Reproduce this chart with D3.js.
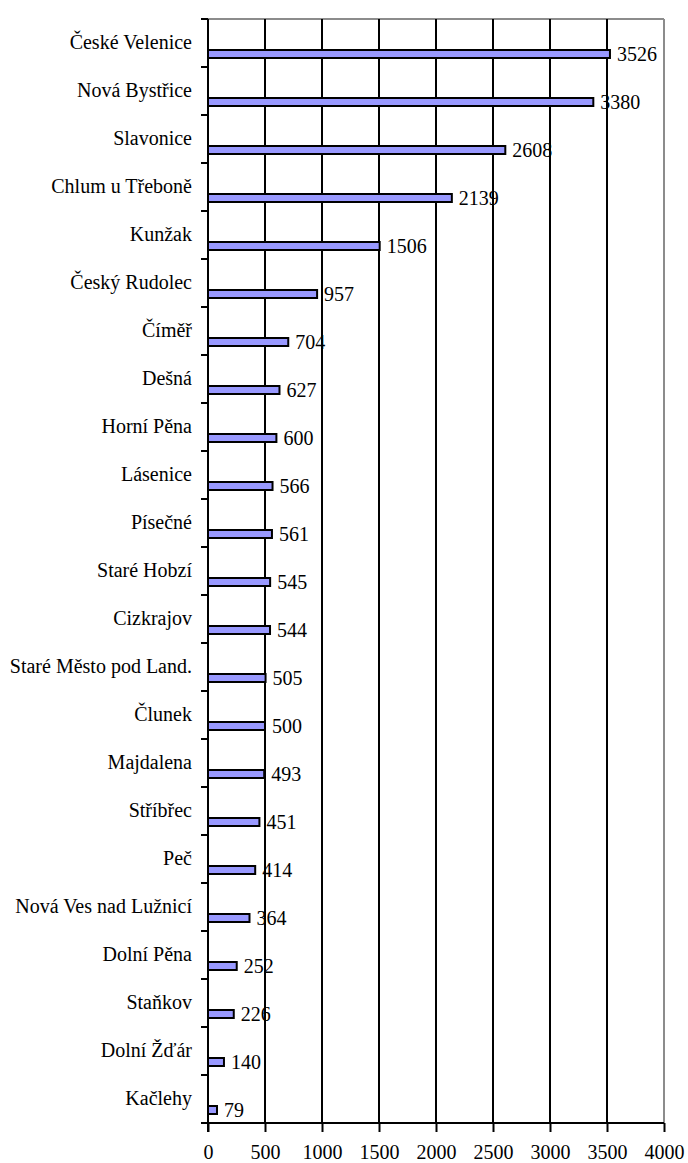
<!DOCTYPE html>
<html>
<head>
<meta charset="utf-8">
<script src="https://cdn.jsdelivr.net/npm/d3@7/dist/d3.min.js"></script>
<style>
  html, body { margin: 0; padding: 0; background: #fff; }
  svg { display: block; }
</style>
</head>
<body>
<svg id="chart" width="688" height="1163"></svg>
<script>
const categories = ["České Velenice","Nová Bystřice","Slavonice","Chlum u Třeboně","Kunžak","Český Rudolec","Číměř","Dešná","Horní Pěna","Lásenice","Písečné","Staré Hobzí","Cizkrajov","Staré Město pod Land.","Člunek","Majdalena","Stříbřec","Peč","Nová Ves nad Lužnicí","Dolní Pěna","Staňkov","Dolní Žďár","Kačlehy"];
const values = [3526,3380,2608,2139,1506,957,704,627,600,566,561,545,544,505,500,493,451,414,364,252,226,140,79];
const xTicks = [0,500,1000,1500,2000,2500,3000,3500,4000];

(function () {
const FONT = "'Liberation Serif', 'Times New Roman', 'DejaVu Serif', serif";
const FS = 20;
const svg = d3.select("#chart")
  .attr("font-family", FONT).attr("font-size", FS);
const pLeft = 208, pRight = 664, pTop = 19, pBottom = 1123;

const x = d3.scaleLinear().domain([0, 4000]).range([pLeft, pRight]);
const y = d3.scaleBand().domain(categories).range([pTop, pBottom]).padding(0);
const bw = y.bandwidth();

// plot border (gray top/right)
svg.append("line").attr("x1", pLeft).attr("x2", pRight).attr("y1", pTop).attr("y2", pTop)
  .attr("stroke", "#8c8c8c").attr("stroke-width", 2);
svg.append("line").attr("x1", pRight).attr("x2", pRight).attr("y1", pTop).attr("y2", pBottom)
  .attr("stroke", "#8c8c8c").attr("stroke-width", 2);

// vertical gridlines
svg.append("g").selectAll("line").data(xTicks.filter(t => t > 0 && t < 4000)).join("line")
  .attr("x1", d => x(d)).attr("x2", d => x(d)).attr("y1", pTop).attr("y2", pBottom)
  .attr("stroke", "#000").attr("stroke-width", 2);

// bars
svg.append("g").selectAll("rect").data(categories).join("rect")
  .attr("x", x(0))
  .attr("y", d => y(d) + bw * 0.625 + 1)
  .attr("width", (d, i) => x(values[i]) - x(0))
  .attr("height", 8)
  .attr("fill", "#9999ff")
  .attr("stroke", "#000")
  .attr("stroke-width", 2);

// value labels
svg.append("g").attr("font-family", FONT).attr("font-size", FS)
  .selectAll("text").data(categories).join("text")
  .attr("x", (d, i) => x(values[i]) + 7)
  .attr("y", d => y(d) + bw * 0.625 + 5)
  .attr("dy", "0.36em")
  .attr("text-anchor", "start")
  .attr("fill", "#000")
  .text((d, i) => values[i]);

// category labels
svg.append("g").attr("font-family", FONT).attr("font-size", FS)
  .selectAll("text").data(categories).join("text")
  .attr("x", 192)
  .attr("y", d => y(d) + 30)
  .attr("text-anchor", "end")
  .attr("fill", "#000")
  .text(d => d);

// left axis line and ticks at band boundaries
const boundaries = categories.map(c => y(c)).concat([pBottom]);
svg.append("line").attr("x1", pLeft).attr("x2", pLeft).attr("y1", pTop).attr("y2", pBottom + 9)
  .attr("stroke", "#000").attr("stroke-width", 2);
svg.append("g").selectAll("line").data(boundaries).join("line")
  .attr("x1", pLeft - 7).attr("x2", pLeft).attr("y1", d => d).attr("y2", d => d)
  .attr("stroke", "#000").attr("stroke-width", 2);

// bottom axis
const xAxis = d3.axisBottom(x).tickValues(xTicks).tickSize(9).tickPadding(13).tickFormat(d3.format("d"));
const gx = svg.append("g").attr("transform", `translate(0,${pBottom})`).call(xAxis)
  .attr("font-family", FONT).attr("font-size", FS);
gx.select(".domain").attr("stroke", "#000").attr("stroke-width", 2).attr("d", `M${pLeft - 7},0H${pRight}`);
gx.selectAll(".tick line").attr("stroke", "#000").attr("stroke-width", 2);
gx.selectAll(".tick text").attr("fill", "#000");
})();
</script>
</body>
</html>
